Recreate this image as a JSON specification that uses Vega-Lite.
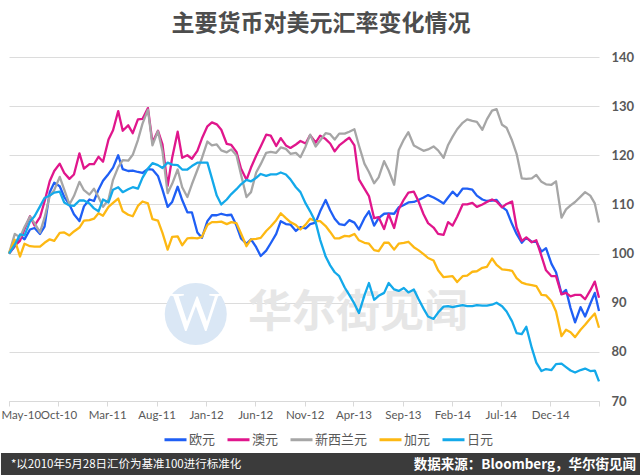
{
  "$schema": "https://vega.github.io/schema/vega-lite/v6.json",
  "background": "white",
  "padding": {"left": 0, "right": 0, "top": 13, "bottom": 0},
  "spacing": 32,
  "title": {"text": "主要货币对美元汇率变化情况", "anchor": "middle", "fontSize": 23, "font": "Noto Sans CJK SC", "fontWeight": "bold", "color": "#4d4d4d", "offset": 15},
  "config": {"view": {"stroke": null}},
  "vconcat": [
    {
      "width": 590,
      "height": 344,
      "encoding": {
        "x": {"field": "d", "type": "temporal",
          "scale": {"domain": [{"year": 2010, "month": 5, "date": 28}, {"year": 2015, "month": 5, "date": 28}], "nice": false},
          "axis": {"title": null, "grid": false, "domain": true, "domainColor": "#d9d9d9", "ticks": true, "tickColor": "#d9d9d9", "tickSize": 5,
            "values": [{"year": 2010, "month": 5, "date": 28}, {"year": 2010, "month": 10, "date": 28}, {"year": 2011, "month": 3, "date": 28}, {"year": 2011, "month": 8, "date": 28}, {"year": 2012, "month": 1, "date": 28}, {"year": 2012, "month": 6, "date": 28}, {"year": 2012, "month": 11, "date": 28}, {"year": 2013, "month": 4, "date": 28}, {"year": 2013, "month": 9, "date": 28}, {"year": 2014, "month": 2, "date": 28}, {"year": 2014, "month": 7, "date": 28}, {"year": 2014, "month": 12, "date": 28}, {"year": 2015, "month": 5, "date": 28}],
            "labelExpr": "year(datum.value) >= 2015 ? '' : timeFormat(datum.value, '%b-%y')",
            "labelOverlap": false,
            "labelFlush": true, "labelFlushOffset": 8, "labelFont": "Lato", "labelFontSize": 11.5, "labelColor": "#595959", "labelPadding": 3}},
        "y": {"field": "值", "type": "quantitative",
          "scale": {"domain": [70, 140], "nice": false, "zero": false},
          "axis": {"title": null, "orient": "right", "values": [70, 80, 90, 100, 110, 120, 130, 140], "grid": true, "gridColor": "#dcdcdc", "gridWidth": 1, "ticks": false, "domain": false, "labelPadding": 12, "labelFont": "Lato", "labelFontSize": 13, "labelFontWeight": "bold", "labelColor": "#595959"}}
      },
      "layer": [
        {
          "data": {"values": [{"d": "2011-12-27", "值": 87.7}]},
          "mark": {"type": "point", "filled": true, "shape": "circle", "size": 3850, "color": "#dae7f5", "opacity": 1}
        },
        {
          "data": {"values": [{"d": "2011-12-27", "值": 87.7, "w": "W"}]},
          "mark": {"type": "text", "font": "Liberation Serif", "fontSize": 54, "color": "#ffffff", "baseline": "middle"},
          "encoding": {"text": {"field": "w"}}
        },
        {
          "data": {"values": [{"d": "2013-05-12", "值": 87.7, "w": "华尔街见闻"}]},
          "mark": {"type": "text", "font": "Noto Sans CJK SC", "fontSize": 44, "fontWeight": "bold", "color": "#e6e6e6", "baseline": "middle"},
          "encoding": {"text": {"field": "w"}}
        },
        {
          "data": {"values": [
            {"d": "2010-05-28", "欧元": 100, "澳元": 100, "新西兰元": 100, "加元": 100, "日元": 100},
            {"d": "2010-06-15", "欧元": 101.5, "澳元": 101.6, "新西兰元": 104, "加元": 102.8, "日元": 101.8},
            {"d": "2010-07-01", "欧元": 103.7, "澳元": 102.6, "新西兰元": 103.3, "加元": 99.4, "日元": 103.9},
            {"d": "2010-07-15", "欧元": 102.9, "澳元": 105, "新西兰元": 105.4, "加元": 102, "日元": 103.7},
            {"d": "2010-08-01", "欧元": 104.9, "澳元": 107.6, "新西兰元": 107.5, "加元": 101.5, "日元": 106.5},
            {"d": "2010-08-15", "欧元": 105.2, "澳元": 105.7, "新西兰元": 106.2, "加元": 101.4, "日元": 107.6},
            {"d": "2010-09-01", "欧元": 104, "澳元": 107.4, "新西兰元": 104.3, "加元": 101.4, "日元": 109.6},
            {"d": "2010-09-15", "欧元": 105.5, "澳元": 110.6, "新西兰元": 107.3, "加元": 102.2, "日元": 111.3},
            {"d": "2010-10-01", "欧元": 112.5, "澳元": 114.7, "新西兰元": 111.7, "加元": 102.9, "日元": 111.8},
            {"d": "2010-10-15", "欧元": 114.4, "澳元": 116.8, "新西兰元": 112.9, "加元": 102.6, "日元": 112.4},
            {"d": "2010-11-01", "欧元": 113.7, "澳元": 118.3, "新西兰元": 115.6, "加元": 104.2, "日元": 112.6},
            {"d": "2010-11-15", "欧元": 111.5, "澳元": 116.4, "新西兰元": 113, "加元": 104.3, "日元": 110.4},
            {"d": "2010-12-01", "欧元": 110, "澳元": 115.2, "新西兰元": 110, "加元": 103.7, "日元": 109.8},
            {"d": "2010-12-15", "欧元": 108, "澳元": 116.1, "新西兰元": 111.7, "加元": 104.5, "日元": 109.7},
            {"d": "2011-01-01", "欧元": 106.6, "澳元": 120.4, "新西兰元": 114.6, "加元": 105.3, "日元": 110.8},
            {"d": "2011-01-15", "欧元": 109.6, "澳元": 117.3, "新西兰元": 112.9, "加元": 106.7, "日元": 110.8},
            {"d": "2011-02-01", "欧元": 111, "澳元": 118.2, "新西兰元": 112, "加元": 106.8, "日元": 110.2},
            {"d": "2011-02-15", "欧元": 110.7, "澳元": 118.2, "新西兰元": 113.2, "加元": 107.1, "日元": 109.2},
            {"d": "2011-03-01", "欧元": 113, "澳元": 119.7, "新西兰元": 111.5, "加元": 108.2, "日元": 108.6},
            {"d": "2011-03-15", "欧元": 114.8, "澳元": 118.7, "新西兰元": 109.5, "加元": 107.7, "日元": 111},
            {"d": "2011-04-01", "欧元": 116.2, "澳元": 123.2, "新西兰元": 111, "加元": 109.5, "日元": 110.4},
            {"d": "2011-04-15", "欧元": 117.5, "澳元": 125.1, "新西兰元": 115, "加元": 110.3, "日元": 113},
            {"d": "2011-05-01", "欧元": 120, "澳元": 129, "新西兰元": 117.6, "加元": 111.2, "日元": 113.5},
            {"d": "2011-05-15", "欧元": 117.2, "澳元": 125, "新西兰元": 119, "加元": 108.6, "日元": 112.5},
            {"d": "2011-06-01", "欧元": 116.8, "澳元": 126.1, "新西兰元": 118.9, "加元": 107.9, "日元": 113.1},
            {"d": "2011-06-15", "欧元": 116.9, "澳元": 124.5, "新西兰元": 120.1, "加元": 107.6, "日元": 113.5},
            {"d": "2011-07-01", "欧元": 116.6, "澳元": 127.3, "新西兰元": 123.1, "加元": 109.7, "日元": 113.2},
            {"d": "2011-07-15", "欧元": 116.4, "澳元": 127.4, "新西兰元": 126.4, "加元": 110.6, "日元": 115.4},
            {"d": "2011-08-01", "欧元": 117.2, "澳元": 129.6, "新西兰元": 129.3, "加元": 110.2, "日元": 117.3},
            {"d": "2011-08-15", "欧元": 117.1, "澳元": 122.6, "新西兰元": 122, "加元": 107, "日元": 118.4},
            {"d": "2011-09-01", "欧元": 115.8, "澳元": 125, "新西兰元": 124.9, "加元": 106.7, "日元": 118},
            {"d": "2011-09-15", "欧元": 113, "澳元": 122.2, "新西兰元": 120.8, "加元": 104.2, "日元": 117.4},
            {"d": "2011-10-01", "欧元": 109.5, "澳元": 113.8, "新西兰元": 112.3, "加元": 100.8, "日元": 118.5},
            {"d": "2011-10-15", "欧元": 110.5, "澳元": 119.5, "新西兰元": 114.2, "加元": 103.4, "日元": 118.1},
            {"d": "2011-11-01", "欧元": 113.6, "澳元": 124.8, "新西兰元": 117.1, "加元": 103.5, "日元": 118},
            {"d": "2011-11-15", "欧元": 110.9, "澳元": 119.5, "新西兰元": 113.5, "加元": 101.7, "日元": 117.1},
            {"d": "2011-12-01", "欧元": 108.4, "澳元": 120, "新西兰元": 111.5, "加元": 103.1, "日元": 117.1},
            {"d": "2011-12-15", "欧元": 108.4, "澳元": 119.3, "新西兰元": 114.1, "加元": 103.2, "日元": 117.8},
            {"d": "2012-01-01", "欧元": 104.3, "澳元": 120.9, "新西兰元": 117, "加元": 103.1, "日元": 118.5},
            {"d": "2012-01-15", "欧元": 103.2, "澳元": 123.4, "新西兰元": 119.4, "加元": 103.4, "日元": 118.5},
            {"d": "2012-02-01", "欧元": 106.6, "澳元": 125.9, "新西兰元": 122.8, "加元": 105.8, "日元": 118.5},
            {"d": "2012-02-15", "欧元": 107.8, "澳元": 126.7, "新西兰元": 122, "加元": 106.4, "日元": 115.3},
            {"d": "2012-03-01", "欧元": 107.8, "澳元": 126.3, "新西兰元": 122.2, "加元": 106.4, "日元": 111.8},
            {"d": "2012-03-15", "欧元": 108.1, "澳元": 125.2, "新西兰元": 121, "加元": 106.5, "日元": 110},
            {"d": "2012-04-01", "欧元": 107.8, "澳元": 122.3, "新西兰元": 120.6, "加元": 106, "日元": 111},
            {"d": "2012-04-15", "欧元": 107.9, "澳元": 122.1, "新西兰元": 121.2, "加元": 106.4, "日元": 112.1},
            {"d": "2012-05-01", "欧元": 105.7, "澳元": 120.7, "新西兰元": 120, "加元": 106.2, "日元": 113.1},
            {"d": "2012-05-15", "欧元": 103.1, "澳元": 117.3, "新西兰元": 116.1, "加元": 104.1, "日元": 114.1},
            {"d": "2012-06-01", "欧元": 102, "澳元": 115, "新西兰元": 111.5, "加元": 101.5, "日元": 115},
            {"d": "2012-06-15", "欧元": 102.9, "澳元": 117.5, "新西兰元": 112.5, "加元": 102.9, "日元": 114.7},
            {"d": "2012-07-01", "欧元": 101.3, "澳元": 119.9, "新西兰元": 116.5, "加元": 103, "日元": 115.4},
            {"d": "2012-07-15", "欧元": 99.5, "澳元": 121.8, "新西兰元": 118.2, "加元": 103.2, "日元": 116.2},
            {"d": "2012-08-01", "欧元": 100.6, "澳元": 124.2, "新西兰元": 120.5, "加元": 104.6, "日元": 115.8},
            {"d": "2012-08-15", "欧元": 102.1, "澳元": 124, "新西兰元": 120.7, "加元": 105.5, "日元": 116.1},
            {"d": "2012-09-01", "欧元": 104, "澳元": 121.9, "新西兰元": 120.5, "加元": 106.8, "日元": 116.1},
            {"d": "2012-09-15", "欧元": 106.6, "澳元": 123.5, "新西兰元": 121.6, "加元": 108.2, "日元": 116.5},
            {"d": "2012-10-01", "欧元": 106, "澳元": 122, "新西兰元": 121.3, "加元": 107.2, "日元": 116.1},
            {"d": "2012-10-15", "欧元": 105.9, "澳元": 121.5, "新西兰元": 120.3, "加元": 106.4, "日元": 115.1},
            {"d": "2012-11-01", "欧元": 104.6, "澳元": 122.2, "新西兰元": 120.5, "加元": 105.8, "日元": 113.5},
            {"d": "2012-11-15", "欧元": 105.4, "澳元": 122.9, "新西兰元": 119.6, "加元": 104.9, "日元": 112.5},
            {"d": "2012-12-01", "欧元": 105.1, "澳元": 122.4, "新西兰元": 121.8, "加元": 105.9, "日元": 110.2},
            {"d": "2012-12-15", "欧元": 106, "澳元": 124.1, "新西兰元": 124.2, "加元": 107.1, "日元": 108.6},
            {"d": "2013-01-01", "欧元": 106.3, "澳元": 122.6, "新西兰元": 121.8, "加元": 106.6, "日元": 106.4},
            {"d": "2013-01-15", "欧元": 108.6, "澳元": 124, "新西兰元": 123, "加元": 106.6, "日元": 102.8},
            {"d": "2013-02-01", "欧元": 110.9, "澳元": 123.3, "新西兰元": 124.5, "加元": 105.6, "日元": 99.4},
            {"d": "2013-02-15", "欧元": 108.8, "澳元": 122.4, "新西兰元": 124.3, "加元": 104.4, "日元": 97.6},
            {"d": "2013-03-01", "欧元": 107.1, "澳元": 120.8, "新西兰元": 123.2, "加元": 103.1, "日元": 96.2},
            {"d": "2013-03-15", "欧元": 106, "澳元": 122, "新西兰元": 124.4, "加元": 103.1, "日元": 95.4},
            {"d": "2013-04-01", "欧元": 105.8, "澳元": 122.9, "新西兰元": 124.4, "加元": 103.6, "日元": 93.1},
            {"d": "2013-04-15", "欧元": 106.8, "澳元": 123.6, "新西兰元": 124.8, "加元": 103.5, "日元": 91.6},
            {"d": "2013-05-01", "欧元": 106.3, "澳元": 122, "新西兰元": 125.3, "加元": 104, "日元": 89.8},
            {"d": "2013-05-15", "欧元": 104.9, "澳元": 115.1, "新西兰元": 122, "加元": 102.7, "日元": 87.9},
            {"d": "2013-06-01", "欧元": 107.2, "澳元": 113.2, "新西兰元": 118.3, "加元": 102.2, "日元": 91.5},
            {"d": "2013-06-15", "欧元": 108.6, "澳元": 111.7, "新西兰元": 116.6, "加元": 102, "日元": 94},
            {"d": "2013-07-01", "欧元": 105.7, "澳元": 107.2, "新西兰元": 114.3, "加元": 100.7, "日元": 90.6},
            {"d": "2013-07-15", "欧元": 107.2, "澳元": 107.4, "新西兰元": 115.5, "加元": 100.5, "日元": 91.4},
            {"d": "2013-08-01", "欧元": 108.1, "澳元": 105, "新西兰元": 118.8, "加元": 102.2, "日元": 92},
            {"d": "2013-08-15", "欧元": 108.2, "澳元": 108, "新西兰元": 116.9, "加元": 102.2, "日元": 94},
            {"d": "2013-09-01", "欧元": 108.1, "澳元": 105.2, "新西兰元": 114, "加元": 100.8, "日元": 92.7},
            {"d": "2013-09-15", "欧元": 109.4, "澳元": 109, "新西兰元": 121, "加元": 102, "日元": 92.4},
            {"d": "2013-10-01", "欧元": 109.9, "澳元": 111, "新西兰元": 123.2, "加元": 102.2, "日元": 93},
            {"d": "2013-10-15", "欧元": 110.4, "澳元": 112.4, "新西兰元": 124.7, "加元": 102.4, "日元": 92.1},
            {"d": "2013-11-01", "欧元": 110.5, "澳元": 112.6, "新西兰元": 122, "加元": 101.3, "日元": 92.7},
            {"d": "2013-11-15", "欧元": 110.9, "澳元": 110.7, "新西兰元": 121.5, "加元": 100.7, "日元": 90.8},
            {"d": "2013-12-01", "欧元": 111.4, "澳元": 108, "新西兰元": 120.9, "加元": 99.9, "日元": 88.8},
            {"d": "2013-12-15", "欧元": 111.9, "澳元": 106.2, "新西兰元": 121.2, "加元": 99.1, "日元": 87.2},
            {"d": "2014-01-01", "欧元": 111.4, "澳元": 105.3, "新西兰元": 121.8, "加元": 98.6, "日元": 86.7},
            {"d": "2014-01-15", "欧元": 110.9, "澳元": 104, "新西兰元": 121, "加元": 96.6, "日元": 88},
            {"d": "2014-02-01", "欧元": 110.2, "澳元": 103.8, "新西兰元": 119.5, "加元": 95.2, "日元": 89.2},
            {"d": "2014-02-15", "欧元": 111.4, "澳元": 106.4, "新西兰元": 122.1, "加元": 95.3, "日元": 89.3},
            {"d": "2014-03-01", "欧元": 112.6, "澳元": 105.7, "新西兰元": 123.8, "加元": 95.4, "日元": 89.1},
            {"d": "2014-03-15", "欧元": 111.7, "澳元": 107.5, "新西兰元": 125.3, "加元": 94.2, "日元": 89.3},
            {"d": "2014-04-01", "欧元": 113.2, "澳元": 110, "新西兰元": 126.6, "加元": 95.4, "日元": 89.5},
            {"d": "2014-04-15", "欧元": 113.2, "澳元": 110, "新西兰元": 127.3, "加元": 95.5, "日元": 89.3},
            {"d": "2014-05-01", "欧元": 113, "澳元": 110.3, "新西兰元": 127, "加元": 96.3, "日元": 89.3},
            {"d": "2014-05-15", "欧元": 111.8, "澳元": 109.5, "新西兰元": 126.8, "加元": 96.4, "日元": 89.5},
            {"d": "2014-06-01", "欧元": 111, "澳元": 110, "新西兰元": 125.2, "加元": 97.1, "日元": 89.4},
            {"d": "2014-06-15", "欧元": 110.7, "澳元": 110.5, "新西兰元": 127.3, "加元": 97.3, "日元": 89.4},
            {"d": "2014-07-01", "欧元": 110.8, "澳元": 111, "新西兰元": 129.1, "加元": 99, "日元": 89.6},
            {"d": "2014-07-15", "欧元": 110.9, "澳元": 110.6, "新西兰元": 129.4, "加元": 97.7, "日元": 90},
            {"d": "2014-08-01", "欧元": 109.5, "澳元": 109.4, "新西兰元": 126.2, "加元": 96.8, "日元": 89.3},
            {"d": "2014-08-15", "欧元": 108.8, "澳元": 110.1, "新西兰元": 125.6, "加元": 96.7, "日元": 88.2},
            {"d": "2014-09-01", "欧元": 106, "澳元": 110.6, "新西兰元": 123, "加元": 96.5, "日元": 86.2},
            {"d": "2014-09-15", "欧元": 104, "澳元": 105.3, "新西兰元": 120.3, "加元": 95, "日元": 83.8},
            {"d": "2014-10-01", "欧元": 102.2, "澳元": 102.6, "新西兰元": 115.3, "加元": 94.1, "日元": 83.6},
            {"d": "2014-10-15", "欧元": 103.2, "澳元": 103.3, "新西兰元": 115.2, "加元": 93.8, "日元": 85.1},
            {"d": "2014-11-01", "欧元": 102.4, "澳元": 102.3, "新西兰元": 115.3, "加元": 93.6, "日元": 80.8},
            {"d": "2014-11-15", "欧元": 102.4, "澳元": 102.7, "新西兰元": 116, "加元": 93.4, "日元": 77.8},
            {"d": "2014-12-01", "欧元": 100.4, "澳元": 99.5, "新西兰元": 114.6, "加元": 91.6, "日元": 76.1},
            {"d": "2014-12-15", "欧元": 101.1, "澳元": 96.6, "新西兰元": 114.1, "加元": 91.5, "日元": 76.5},
            {"d": "2015-01-01", "欧元": 97.9, "澳元": 95.4, "新西兰元": 114, "加元": 90.3, "日元": 76.3},
            {"d": "2015-01-15", "欧元": 96.2, "澳元": 95.4, "新西兰元": 114.7, "加元": 88.2, "日元": 77.5},
            {"d": "2015-02-01", "欧元": 91.8, "澳元": 91.7, "新西兰元": 107.3, "加元": 83.2, "日元": 77.6},
            {"d": "2015-02-15", "欧元": 92.6, "澳元": 92, "新西兰元": 109, "加元": 84.5, "日元": 76.9},
            {"d": "2015-03-01", "欧元": 88.9, "澳元": 91.3, "新西兰元": 109.8, "加元": 84, "日元": 76.2},
            {"d": "2015-03-15", "欧元": 86, "澳元": 91.6, "新西兰元": 110.5, "加元": 83, "日元": 75.8},
            {"d": "2015-04-01", "欧元": 89.1, "澳元": 91.6, "新西兰元": 111.6, "加元": 84.5, "日元": 76.3},
            {"d": "2015-04-15", "欧元": 87.2, "澳元": 90.7, "新西兰元": 112.5, "加元": 85.5, "日元": 76.6},
            {"d": "2015-05-01", "欧元": 89.8, "澳元": 92.5, "新西兰元": 111.8, "加元": 86.8, "日元": 76.1},
            {"d": "2015-05-15", "欧元": 92, "澳元": 94.3, "新西兰元": 110.2, "加元": 87.8, "日元": 76.2},
            {"d": "2015-05-28", "欧元": 88.3, "澳元": 91, "新西兰元": 106.3, "加元": 84.9, "日元": 74}
          ]},
          "transform": [{"fold": ["欧元", "澳元", "新西兰元", "加元", "日元"], "as": ["币种", "值"]}],
          "mark": {"type": "line", "strokeWidth": 2.3, "strokeJoin": "round"},
          "encoding": {
            "color": {"field": "币种", "type": "nominal",
              "scale": {"domain": ["欧元", "澳元", "新西兰元", "加元", "日元"], "range": ["#1f5ff5", "#e0168c", "#a6a6a6", "#fdb813", "#13a9ea"]},
              "legend": {"title": null, "orient": "none", "legendX": 154, "legendY": 370, "direction": "horizontal", "symbolType": "stroke", "symbolSize": 484, "symbolStrokeWidth": 3, "labelFont": "Noto Sans CJK SC", "labelFontSize": 13, "labelColor": "#595959", "columnPadding": 5, "labelOffset": 1, "padding": 0}}
          }
        }
      ]
    },
    {
      "width": 632,
      "height": 23,
      "view": {"fill": null, "stroke": null},
      "layer": [
        {
          "data": {"values": [{"a": -1.27, "b": 100}]},
          "mark": {"type": "rect", "color": "#3b3b3b"},
          "encoding": {
            "x": {"field": "a", "type": "quantitative", "scale": {"domain": [0, 100]}, "axis": null},
            "x2": {"field": "b"}
          }
        },
        {
          "data": {"values": [
            {"note": "*以2010年5月28日汇价为基准100进行标准化", "pos": 0, "side": "l"},
            {"note": "数据来源：Bloomberg，华尔街见闻", "pos": 100, "side": "r"}
          ]},
          "encoding": {
            "x": {"field": "pos", "type": "quantitative", "scale": {"domain": [0, 100]}, "axis": null},
            "text": {"field": "note"}
          },
          "layer": [
            {"transform": [{"filter": "datum.side == 'l'"}], "mark": {"type": "text", "align": "left", "baseline": "middle", "dx": 2, "color": "#ffffff", "font": "Noto Sans CJK SC", "fontSize": 11.5}},
            {"transform": [{"filter": "datum.side == 'r'"}], "mark": {"type": "text", "align": "right", "baseline": "middle", "dx": -5, "color": "#ffffff", "font": "Noto Sans CJK SC", "fontSize": 13.5, "fontWeight": "bold"}}
          ]
        }
      ]
    }
  ]
}
